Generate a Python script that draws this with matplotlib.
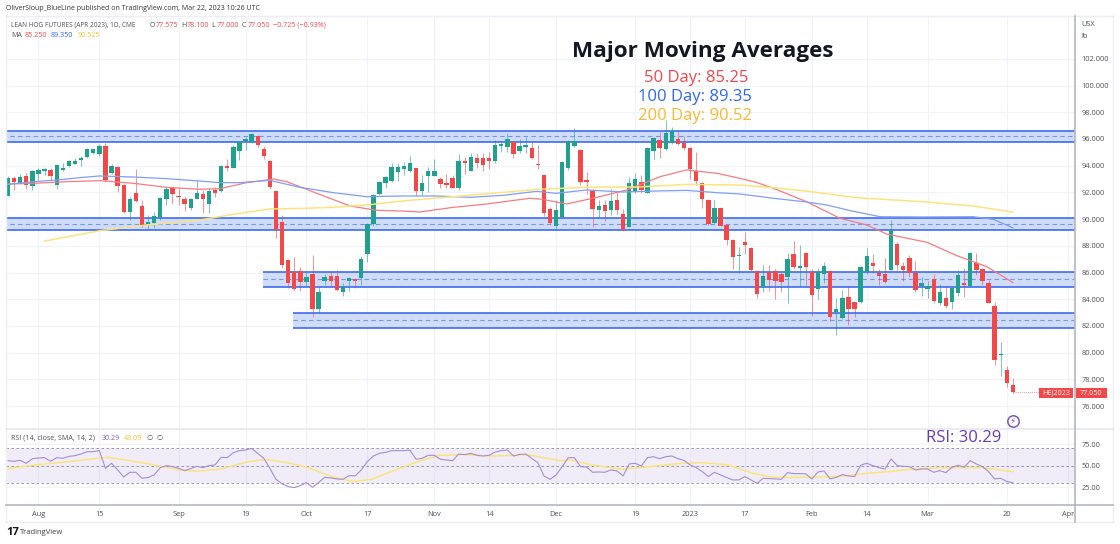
import matplotlib
matplotlib.use('Agg')
import matplotlib.pyplot as plt
from matplotlib.lines import Line2D
import numpy as np

plt.rcParams['font.family'] = ['Open Sans', 'DejaVu Sans']

# daily candles
opens = [91.75,93.05,92.68,93.23,92.5,93.35,93.58,93.68,92.53,93.7,
         93.95,94.15,94.43,94.65,94.95,94.9,95.5,93.45,93.93,92.55,
         90.53,91.93,90.95,89.63,89.73,90.15,91.48,92.3,91.75,91.48,
         90.83,91.53,91.9,91.13,92.2,92.1,93.95,93.85,95.08,95.85,
         95.75,96.23,95.25,94.35,92.08,89.76,86.94,86.04,86.11,85.29,
         85.91,83.29,85.36,85.76,85.74,84.54,85.34,85.51,85.59,87.36,
         89.63,91.88,92.7,92.85,93.53,93.75,93.63,93.8,92.08,93.25,
         93.25,93.0,92.68,93.1,92.3,94.33,93.63,94.6,94.6,94.6,
         94.38,95.5,95.4,95.78,95.08,95.38,95.3,94.15,93.28,90.78,
         89.48,90.18,93.83,95.5,95.15,92.95,92.13,90.68,91.08,90.65,
         91.43,90.38,89.4,92.03,92.75,91.98,95.13,95.93,95.23,95.68,
         96.0,95.73,95.3,93.63,92.68,91.43,89.73,90.85,89.55,88.4,
         87.2,88.25,87.85,86.09,84.91,86.01,86.11,85.89,85.69,87.39,
         86.31,87.46,86.06,84.79,85.86,86.09,83.02,82.59,84.14,83.77,
         83.77,86.01,86.71,85.96,85.89,86.21,88.13,86.46,87.11,85.96,
         85.01,84.79,85.49,83.74,84.09,83.79,84.46,85.19,85.0,86.74,
         86.24,85.19,83.49,79.8,78.7,77.575]
highs = [93.2,93.2,93.35,93.48,93.68,93.8,93.85,93.8,94.13,94.18,
         94.4,94.55,94.73,95.3,95.33,95.6,95.68,94.13,93.98,92.6,
         91.68,93.78,91.43,90.3,90.5,91.68,92.38,92.38,92.43,91.68,
         91.55,92.93,92.18,92.3,92.43,94.05,94.48,95.53,95.8,96.18,
         96.48,96.33,95.48,94.43,92.13,90.31,87.0,87.19,86.44,86.06,
         87.31,84.89,85.89,86.14,86.19,85.19,85.69,85.56,87.24,89.74,
         91.88,92.88,93.25,94.18,94.23,94.28,94.73,93.85,93.3,93.93,
         94.48,93.18,93.38,93.3,94.88,94.68,94.98,94.93,94.93,95.05,
         95.93,95.88,96.43,95.88,96.0,96.18,95.8,95.55,93.33,90.88,
         91.43,94.38,95.93,96.8,95.23,93.55,92.23,91.43,91.43,92.23,
         92.05,90.73,93.18,93.43,93.3,95.38,96.13,96.55,97.4,96.88,
         96.68,96.23,95.43,95.0,92.8,91.53,91.43,90.88,89.6,88.48,
         87.88,89.05,87.88,86.14,86.54,86.54,86.24,86.06,87.44,88.33,
         88.03,87.54,86.29,86.34,86.79,86.14,84.06,84.69,84.99,83.82,
         86.49,87.81,87.39,86.24,87.09,89.93,88.31,86.81,87.29,86.86,
         85.69,85.39,85.89,85.11,84.99,84.86,86.19,86.31,87.54,87.49,
         86.31,85.44,83.77,80.77,79.02,78.1]
lows = [91.7,92.2,92.62,92.23,92.2,92.93,93.3,92.85,92.23,93.63,
        93.93,94.1,94.0,94.6,94.88,94.73,92.8,93.35,92.05,90.43,
        89.93,91.3,89.43,89.18,89.3,89.93,91.05,91.13,91.05,90.58,
        90.68,91.48,90.43,90.43,91.68,92.05,93.63,93.8,94.43,95.18,
        95.68,95.43,94.48,92.28,88.6,86.31,84.81,84.7,84.61,84.99,
        82.64,82.99,85.06,84.99,84.64,84.24,84.64,84.81,85.06,86.76,
        89.48,91.78,92.3,92.8,92.85,93.28,93.55,91.73,91.73,92.05,
        93.25,92.33,92.35,92.3,92.18,93.38,93.6,93.85,93.63,93.75,
        94.18,95.0,95.05,94.6,94.93,94.93,94.5,93.75,90.25,89.6,
        89.18,90.13,93.68,95.43,92.53,91.88,89.38,90.13,89.85,90.3,
        90.38,89.13,89.38,91.98,91.98,91.93,94.5,94.6,95.18,95.63,
        95.55,95.18,92.98,92.53,90.83,89.58,89.63,89.45,88.03,86.25,
        85.98,87.4,86.15,84.09,84.54,84.64,84.01,84.51,83.74,86.24,
        85.01,85.06,82.74,84.04,85.19,82.34,81.34,82.54,82.07,82.64,
        83.72,85.89,85.94,85.06,85.19,86.19,86.19,85.39,85.69,84.56,
        84.26,84.11,83.69,83.54,83.34,83.24,84.26,84.19,84.98,85.79,
        85.09,83.69,79.07,78.27,77.45,77.0]
closes = [93.05,92.8,93.13,92.53,93.6,93.65,93.78,93.23,94.08,93.83,
          94.33,94.35,94.6,95.25,95.28,95.5,92.95,94.0,92.48,90.55,
          91.53,91.38,89.55,89.78,90.23,91.55,92.25,91.88,91.68,91.15,
          91.48,91.93,91.53,92.1,91.98,94.0,93.8,95.4,95.75,95.98,
          96.35,95.58,94.73,92.43,89.18,86.59,85.24,84.74,85.29,85.69,
          83.29,84.54,85.64,85.36,84.69,84.89,85.56,85.39,86.99,89.66,
          91.78,92.78,93.15,93.88,93.93,93.98,94.2,92.1,92.73,93.58,
          93.58,92.65,92.53,92.35,94.38,94.18,94.65,94.2,94.05,94.38,
          95.53,95.65,96.03,94.9,95.48,95.55,94.58,94.05,90.48,89.7,
          90.68,94.28,95.83,95.83,92.78,92.8,90.73,90.98,90.63,91.35,
          90.68,89.18,92.73,93.0,92.15,95.3,96.05,95.35,96.48,96.63,
          95.65,95.3,93.78,92.88,91.53,89.63,90.83,89.5,88.4,87.15,
          87.28,88.08,86.16,84.39,85.74,85.44,85.34,85.29,87.01,86.44,
          86.51,86.41,84.29,86.01,86.49,82.69,83.27,84.09,83.27,83.29,
          86.39,87.24,86.51,85.76,85.26,89.18,86.56,86.16,85.99,84.69,
          85.19,84.96,83.84,84.54,83.47,84.81,85.79,85.04,87.49,86.21,
          85.39,83.74,79.45,79.87,77.75,77.05]

# moving averages: bar number and price, read at the bends
ma50_x = [0,4.2,9.6,15.1,20.6,26,31.5,34.8,39.2,43.6,45.8,50.7,56.2,60.5,64.9,67.6,73.1,78.6,85.7,87.8,91.7,96.7,101.6,107.1,111.4,116.4,120.2,122.9,125.7,131.1,136.6,141,144.3,150.9,155.8,160.7,165]
ma50_y = [92.63,92.68,92.8,92.88,92.68,92.38,92.23,92.28,92.73,93,92.8,91.93,90.98,90.66,90.6,90.53,90.88,91.13,91.56,91.48,91.13,91.63,92.18,93.18,93.68,93.43,93.05,92.75,92.3,91.31,90.06,89.56,88.88,88.26,87.26,86.44,85.25]
ma100_x = [0,4.2,8,12.4,15.1,20.6,26,31.5,34.8,38.1,43,47.9,53.4,58.9,64.9,70.4,75.9,81.3,86.8,90,95,101,106,111.4,116.4,120.2,125.7,131.1,134.4,138.3,143.2,150.3,158.5,161.8,165]
ma100_y = [92.6,92.8,92.93,93.13,93.23,93.15,93.03,92.85,92.73,92.73,92.9,92.38,91.98,91.68,91.73,91.73,91.63,91.78,92.08,91.93,92.18,92.03,92.1,92.15,91.98,91.88,91.56,91.28,91.06,90.63,90.18,90.16,90.18,89.98,89.35]
ma200_x = [6,7.7,15.1,22.8,31.5,37,43,47.9,53.4,59.4,64.9,73.1,81.3,86.8,95,103.3,111.4,120.2,125.7,131.1,139.4,150.3,158.5,165]
ma200_y = [88.36,88.5,89.13,89.56,89.93,90.36,90.76,90.8,90.88,91.08,91.36,91.68,92,92.23,92.38,92.4,92.6,92.55,92.35,92.1,91.6,91.3,90.98,90.525]

# RSI per bar
rsi = [55.8,55.1,56.2,52.8,58.1,58.9,59.3,55.1,59.3,58.5,60.8,61.6,63.5,66.2,66.2,67.4,47,52.8,45.1,37,42.4,42.4,35.5,36.3,39.3,47.8,50.1,48.9,47,44.3,
       46.6,49.3,47.8,50.1,50.9,59.7,59.3,65,67.4,68.1,70,64.3,58.5,47,34.3,29,25.9,24.7,27,30.5,25.1,30.5,36.6,35.9,34.7,34.3,38.6,38.2,45.1,54.7,
       61.2,64.3,65.4,67.4,67.4,67.4,68.1,57.4,58.5,62,62,57.4,56.6,55.8,63.5,62.8,64.3,62,61.2,62,65.8,67.4,68.1,61.2,63.1,63.5,58.5,53.5,38.2,34.3,39.3,48.9,
       59.3,59.3,48.9,48.5,42.4,42.8,42.4,45.1,43.9,38.2,52,52.8,49.7,59.3,60.4,58.1,60.4,61.2,58.1,56.2,50.9,47.8,43.2,37.4,42.4,39.3,36.3,33.6,33.6,37.4,33.6,29.7,
       35.5,35.1,34.7,34.3,42,40.9,40.9,40.5,34.7,42.8,43.9,34.7,36.6,39.7,38.2,37.4,50.5,52.8,50.1,47.8,46.2,57.8,50.1,49.3,48.9,45.1,46.2,46.2,42.4,44.3,42,48.2,50.5,48.2,55.8,52,48.9,43.2,34.7,35.5,31.7,30.29]
rsi_ma_x = [0,4.5,10.4,16.3,22.1,28,30.9,35,39.7,42.4,45.6,49.1,53.2,56.7,59.7,63.2,67.3,70.8,74.9,79.6,85.5,90.7,92.4,95.9,100.6,105.3,110.6,114.1,118.2,122.3,125.8,131.7,137.5,141.1,144.6,149.3,155.2,159.9,165]
rsi_ma_y = [46.6,50.9,55.1,59.7,53.5,45.1,43.6,46.2,55.1,57,53.9,48.2,37.4,31.7,34.3,43.9,54.7,62,62.8,61.2,62.4,55.8,56.6,50.9,45.9,48.9,52.8,53.5,50.9,41.2,36.6,36.6,38.2,41.2,43.2,46.6,47.8,47.8,43.09]

# support and resistance zones: start bar, bottom, middle, top
zone_start = [-1, -1, 41.9, 46.85]
zone_low = [95.75, 89.18, 84.94, 81.82]
zone_mid = [96.2, 89.64, 85.49, 82.42]
zone_high = [96.62, 90.1, 86.06, 82.99]

tick_bars = [5,15,28,39,49,59,70,79,90,103,112,121,132,141,151,164,174]
tick_names = ['Aug','15','Sep','19','Oct','17','Nov','14','Dec','19','2023','17','Feb','14','Mar','20','Apr']
price_ticks = np.arange(76, 104, 2)
rsi_ticks = [25, 50, 75]

W, H = 1120, 544
GREEN = '#1fa18d'
RED = '#f44848'
GRID = '#f1f3fb'
TEXT = '#505050'
SMALL = 5.1


def px_box(x0, y0, x1, y1):
    return [x0 / W, 1 - y1 / H, (x1 - x0) / W, (y1 - y0) / H]


def fig_line(x0, y0, x1, y1, color, lw=1):
    fig.add_artist(Line2D([x0 / W, x1 / W], [1 - y0 / H, 1 - y1 / H], color=color, lw=lw))


def fig_text(x, y, s, **kw):
    kw.setdefault('va', 'center')
    return fig.text(x / W, 1 - y / H, s, **kw)


fig = plt.figure(figsize=(W / 100, H / 100), dpi=100)
ax = fig.add_axes(px_box(6, 16, 1075, 429))
ax2 = fig.add_axes(px_box(6, 429, 1075, 505))
xlim = (-0.328, 175.2)

# main pane
for a in (ax, ax2):
    a.set_xlim(xlim)
    for s in a.spines.values():
        s.set_visible(False)
    a.set_axisbelow(True)
    a.vlines(tick_bars, 0, 1, transform=a.get_xaxis_transform(), color=GRID, lw=0.8, zorder=0)
    a.yaxis.tick_right()
    a.tick_params(axis='y', length=0, pad=4.5, labelsize=5.3, labelcolor=TEXT)
    a.set_xticks([])
ax.set_ylim(74.28, 105.21)
ax.set_yticks(price_ticks)
ax.set_yticklabels(['%.3f' % p for p in price_ticks])
ax.hlines(price_ticks, *xlim, color=GRID, lw=0.8, zorder=0)

for i in range(len(zone_low)):
    ax.fill_between([zone_start[i], xlim[1]], zone_low[i], zone_high[i], color='#d0dcfb', lw=0, zorder=1)
    ax.hlines([zone_low[i], zone_high[i]], zone_start[i], xlim[1], color='#3d6cf0', lw=1.2, zorder=4)
    ax.hlines(zone_mid[i], zone_start[i], xlim[1], color='#7394f3', lw=0.8, linestyles=(0, (4, 3)), zorder=2)

bars = np.arange(len(opens))
opens = np.array(opens)
closes = np.array(closes)
colors = [GREEN if c >= o else RED for o, c in zip(opens, closes)]
ax.vlines(bars, lows, highs, colors=colors, lw=0.7, alpha=0.6, zorder=3)
ax.bar(bars, np.abs(closes - opens), bottom=np.minimum(opens, closes), width=0.72, color=colors, lw=0, zorder=5)

ax.plot(ma50_x, ma50_y, color='#f77c80', lw=0.9, zorder=6)
ax.plot(ma100_x, ma100_y, color='#7f9ff5', lw=0.9, zorder=6)
ax.plot(ma200_x, ma200_y, color='#fde37c', lw=1.1, zorder=6)

ax.hlines(closes[-1], bars[-1], xlim[1], color=RED, lw=0.6, linestyles=(0, (1, 1.5)), alpha=0.8)
ax.plot([bars[-1]], [74.88], marker='o', ms=8.2, mfc='white', mec='#7e57c2', mew=1.1, clip_on=False, zorder=7)
ax.text(bars[-1], 74.88, '\u26a1', color='#7e57c2', fontsize=6.5, ha='center', va='center', zorder=8, family='DejaVu Sans')

# RSI pane
ax2.set_ylim(4.6, 92.4)
ax2.set_yticks(rsi_ticks)
ax2.set_yticklabels(['%.2f' % r for r in rsi_ticks])
ax2.hlines(rsi_ticks, *xlim, color=GRID, lw=0.8, zorder=0)
ax2.axhspan(30, 70, color='#7e57c2', alpha=0.1, lw=0, zorder=1)
ax2.hlines([30, 50, 70], *xlim, color='#8a8d97', lw=0.6, linestyles=(0, (3, 3)), zorder=2)
ax2.plot(rsi_ma_x, rsi_ma_y, color='#fde37c', lw=1.1, zorder=3)
ax2.plot(np.arange(len(rsi)), rsi, color='#a48dd6', lw=0.8, zorder=4)

# x axis labels
for b, name in zip(tick_bars, tick_names):
    ax2.annotate(name, (b, 0), xycoords=ax2.get_xaxis_transform(), xytext=(0, -6.6),
                 textcoords='offset points', ha='center', va='center', fontsize=5.3, color=TEXT)

# frame
fig_line(6, 16, 1113, 16, '#eceef6')
fig_line(6, 16, 6, 522, '#eceef6')
fig_line(6, 522, 1113, 522, '#eceef6')
fig_line(1113, 16, 1113, 522, '#eceef6')
fig_line(6, 429, 1113, 429, '#e6e8f0', 1.2)
fig_line(6, 505, 1113, 505, '#b4b7c0', 1.2)
fig_line(1075, 16, 1075, 522, '#b4b7c0', 1.2)

# header and legend
fig_text(6, 9, 'OliverSloup_BlueLine published on TradingView.com, Mar 22, 2023 10:26 UTC', fontsize=5.05, color='#333333')
fig_text(11, 25.3, 'LEAN HOG FUTURES (APR 2023), 1D, CME', fontsize=4.7, color=TEXT)
for x, label, val in [(150, 'O', '77.575'), (181, 'H', '78.100'), (211, 'L', '77.000'), (242, 'C', '77.050')]:
    fig_text(x, 25.3, label, fontsize=SMALL, color=TEXT)
    fig_text(x + 5.5, 25.3, val, fontsize=SMALL, color=RED)
fig_text(273, 25.3, '\u22120.725 (\u22120.93%)', fontsize=SMALL, color=RED)
fig_text(11, 35.7, 'MA', fontsize=SMALL, color=TEXT)
fig_text(25, 35.7, '85.250', fontsize=SMALL, color=RED)
fig_text(51, 35.7, '89.350', fontsize=SMALL, color='#2962ff')
fig_text(78, 35.7, '90.525', fontsize=SMALL, color='#fbc02d')
fig_text(11, 438, 'RSI (14, close, SMA, 14, 2)', fontsize=SMALL, color=TEXT)
fig_text(102, 438, '30.29', fontsize=SMALL, color='#7e57c2')
fig_text(124, 438, '43.09', fontsize=SMALL, color='#fbc02d')
fig_text(147, 438, '\u2205  \u2205', fontsize=SMALL, color=TEXT)

fig_text(1081, 25, 'USX', fontsize=5.3, color=TEXT)
fig_text(1081, 37, 'lb', fontsize=5.3, color=TEXT)

# annotations on the chart
fig_text(702.7, 51.7, 'Major Moving Averages', fontsize=16.2, fontweight='bold', color='#131722', ha='center')
fig_text(696.5, 77.7, '50 Day: 85.25', fontsize=12, color='#f0484e', ha='center')
fig_text(695, 97.3, '100 Day: 89.35', fontsize=12, color='#2f66f5', ha='center')
fig_text(695, 115.7, '200 Day: 90.52', fontsize=12, color='#fbb92f', ha='center')
fig_text(963.5, 438.3, 'RSI: 30.29', fontsize=12, color='#673ab7', ha='center')

# last price tags
for x, w, label in [(1039, 34, 'HEJ2023'), (1075.5, 31.5, '77.050')]:
    tag = fig.add_axes(px_box(x, 388, x + w, 397.5))
    tag.set_axis_off()
    tag.patch.set_visible(False)
    tag.axhspan(0, 1, color=RED, lw=0)
    tag.set_ylim(0, 1)
    tag.text(0.5, 0.47, label, color='white', fontsize=5.2, ha='center', va='center', transform=tag.transAxes)

# footer
fig_text(6, 532.5, '17', fontsize=8, fontweight='bold', color='#131722')
fig_text(20, 532.7, 'TradingView', fontsize=5.5, color='#404040')

fig.savefig('out.png', dpi=100)
